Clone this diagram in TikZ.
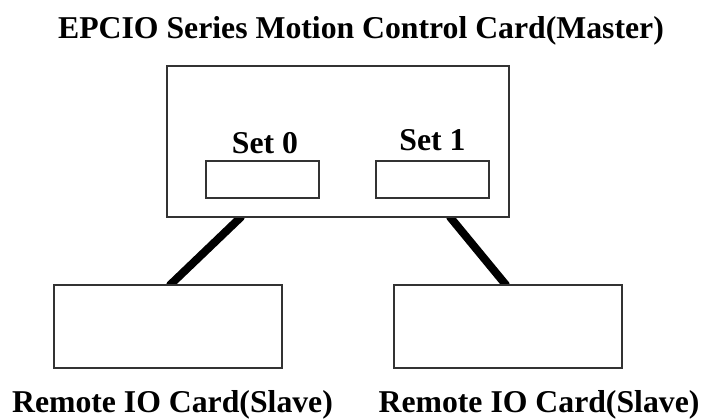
\documentclass[tikz,border=0pt]{standalone}
\usepackage{fontspec}
\setmainfont{Liberation Serif}
\usetikzlibrary{calc,backgrounds}
\definecolor{cardline}{HTML}{333333}

\begin{document}
\begin{tikzpicture}[
  x=0.75pt, y=0.75pt,
  card/.style={draw=cardline, line width=0.9pt, fill=white, inner sep=0pt, outer sep=0pt},
  master/.style={card, minimum width=342*0.75pt, minimum height=151*0.75pt},
  port/.style={card, minimum width=113*0.75pt, minimum height=37*0.75pt},
  slave/.style={card, minimum width=228*0.75pt, minimum height=83*0.75pt},
  lbl/.style={font=\fontsize{23.8}{28}\selectfont\bfseries, anchor=base, inner sep=0pt},
  link/.style={line width=6pt, line cap=round, black},
]
\useasboundingbox (0,0) rectangle (705,419);

% Titel und Karten
\node[lbl] (title) at (361,381) {EPCIO Series Motion Control Card(Master)};
\node[master] (mastercard) at (338,277.5) {};
\node[slave] (slave0) at (168,92.5) {};
\node[slave] (slave1) at (508,92.5) {};

% Anschluesse
\node[port] (set0) at (262.5,239.5) {};
\node[port] (set1) at (432.5,239.5) {};
\node[lbl] (set0lbl) at (265,266) {Set 0};
\node[lbl] (set1lbl) at (432.5,269) {Set 1};

% Verbindungen (hinter den Karten)
\coordinate (tap0) at ($(mastercard.south west)+(74,0)$);
\coordinate (tap1) at ($(mastercard.south west)+(283,0)$);
\coordinate (end0) at ($(slave0.north west)+(116,0)$);
\coordinate (end1) at ($(slave1.north west)+(112,0)$);
\begin{scope}[on background layer]
\draw[link] (tap0) -- (end0);
\draw[link] (tap1) -- (end1);
\end{scope}

% Beschriftungen der Slave-Karten
\node[lbl] (slave0lbl) at (172.5,7) {Remote IO Card(Slave)};
\node[lbl] (slave1lbl) at (539,7) {Remote IO Card(Slave)};

\end{tikzpicture}
\end{document}
